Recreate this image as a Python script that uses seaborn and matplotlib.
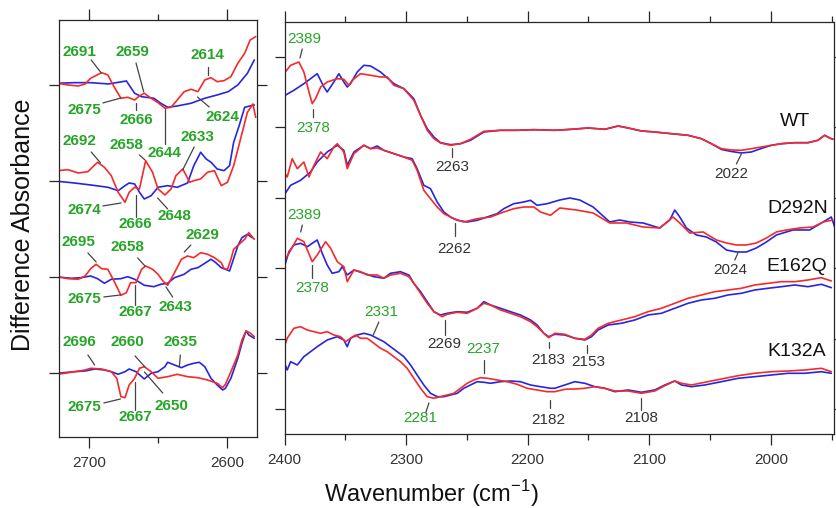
import numpy as np
import matplotlib
matplotlib.use("Agg")
import matplotlib.pyplot as plt
import seaborn as sns

# ---- left panel (2722-2578 cm-1), values relative to each trace's baseline ----
left_wt_blue_wn = [2723, 2711, 2699, 2686, 2673, 2667, 2662, 2653, 2648, 2643, 2636, 2626, 2616, 2607, 2599, 2592, 2585, 2580]
left_wt_blue = [1.7, 2.3, 2.3, 1, 4, -8.3, -11.7, -13.3, -18.3, -22.3, -21, -18.3, -13.3, -10, -6.7, 0, 11.7, 25]
left_wt_red_wn = [2723, 2715.5, 2708, 2703, 2699, 2691, 2686.5, 2682, 2677, 2672, 2667, 2663.5, 2660, 2655, 2650, 2645,
                  2640.5, 2636, 2631, 2626, 2621, 2616, 2611.5, 2607, 2602, 2597, 2592, 2587, 2583, 2579]
left_wt_red = [1.7, 0, -1, 1, 6.7, 12.3, 10, -1.7, -13.3, -12.3, -15, -11, -8.3, -13.3, -17.7, -23.3,
               -22.3, -15, -6.7, -4.3, -6.7, 5, 7.3, 3.3, 4.3, 8.3, 21.7, 31.7, 45, 48.3]

left_d292n_blue_wn = [2723, 2711, 2699, 2686.5, 2679, 2674, 2671, 2667, 2663.5, 2660, 2655, 2650, 2643, 2636, 2628.5,
                      2624, 2619, 2615, 2611.5, 2607, 2602, 2598, 2595, 2591, 2587, 2584, 2580]
left_d292n_blue = [-0.3, -2, -4, -6.3, -9.7, -4.7, -2, -3, -11.3, -18, -14.7, -6.3, -4.7, -6.3, -2,
                   15.3, 28.7, 22, 18.7, 12, 10.3, 15.3, 38.7, 55.3, 73.7, 74.7, 76]
left_d292n_red_wn = [2723, 2715.5, 2708, 2701, 2694, 2689, 2684, 2679, 2674, 2671, 2667, 2663.5, 2659, 2654, 2650, 2645,
                     2640.5, 2637, 2632, 2627, 2624, 2619, 2614, 2609, 2604, 2599.5, 2595, 2590, 2585, 2581, 2579]
left_d292n_red = [10.3, 11.3, 8, 9.3, 18.7, 13.7, 5.3, -11.3, -21.3, -11.3, -6.3, -8, 20.3, 8.7, -8, -14,
                  -8, 5.3, 12, -1.3, 0.3, 2, 8.7, 10.3, -4.7, -1.3, 15.3, 42, 68.7, 77, 63.7]

left_e162q_blue_wn = [2723, 2713, 2706, 2699, 2694, 2689, 2684, 2677, 2672, 2667, 2660, 2653, 2648, 2643, 2638,
                      2631, 2626, 2621, 2616, 2611.5, 2608, 2604, 2601, 2598, 2596, 2592, 2589, 2585, 2581.5]
left_e162q_blue = [0, -1.3, -0.7, 1, -1.7, -6.3, -2.3, -1.7, 0.3, -2.3, -8.3, -9.7, -7.3, -6.3, -0.7,
                   2.7, 7.7, 9.3, 13.7, 17.7, 14.3, 9.3, 7.7, 6, 14.3, 31, 39.3, 42.7, 39.3]
left_e162q_red_wn = [2723, 2715.5, 2708, 2703, 2699, 2695, 2691, 2686.5, 2682, 2677, 2673, 2670, 2666, 2662, 2659,
                     2654, 2650, 2646.5, 2643, 2638, 2633, 2628.5, 2624, 2619, 2614, 2609, 2604, 2602, 2599.5,
                     2597, 2595, 2591, 2587, 2584, 2580]
left_e162q_red = [0.3, -1.7, -2.3, 1, 8.3, 12.7, 8.3, 7.7, -4, -18.3, -15.7, -5.7, -5.7, 7.7, 11,
                  7.7, 2.7, -4, -8.3, 4.3, 17.7, 21, 19.3, 24.3, 22.7, 19.3, 14.3, 8.3, 7.7,
                  17.7, 27.7, 32.7, 37.7, 44.3, 37.7]

left_k132a_blue_wn = [2723, 2711, 2703, 2696, 2689, 2684, 2679, 2674, 2671, 2666, 2660, 2655, 2650, 2645, 2643, 2638,
                      2633, 2628.5, 2624, 2620, 2616, 2611.5, 2607, 2603, 2601, 2597, 2592, 2589, 2586, 2584, 2580]
left_k132a_blue = [-0.3, 1.3, 2, 4, 3, 1.3, -1.3, 1.3, 4, 1.3, -6, -0.3, 1.3, 6.3, 10.7, 8,
                   5.3, 8, 9.7, 10.7, 6.3, -5.3, -12, -17, -15.3, -5.3, 14.7, 29.7, 42, 38, 34.7]
left_k132a_red_wn = [2723, 2713, 2703, 2699, 2691, 2684, 2680, 2677, 2674, 2671, 2667, 2663.5, 2660, 2655, 2650,
                     2643, 2636, 2628.5, 2621, 2614, 2607, 2603, 2601, 2597, 2592, 2589, 2586, 2583, 2580]
left_k132a_red = [-1.3, 0.7, 3, 4.7, 4, 1.3, -5.3, -23.7, -24.7, -12, -5.3, 4.7, 6.3, 1.3, -5.3,
                  -3.7, -1.3, -3.7, -4.7, -7, -10.3, -14.7, -11.3, 1.3, 18, 33, 42, 40, 36.3]

left_offsets = {"WT": 288, "D292N": 192, "E162Q": 96, "K132A": 0}

# ---- right panel (2400-1948 cm-1) ----
right_wt_blue_wn = [2400.6, 2392.4, 2384.2, 2373.2, 2367.7, 2365, 2359.5, 2355.4, 2351.3, 2348.5, 2345.8, 2340.3,
                    2334.8, 2329.3, 2321.1, 2310.1, 2301.9, 2293.7, 2288.2, 2282.7, 2277.2, 2271.8, 2263.5, 2255.3,
                    2247.1, 2236.1, 2222.4, 2208.7, 2195, 2177.7, 2164, 2150.3, 2136.6, 2125.6, 2117.4, 2106.4,
                    2095.5, 2081.8, 2068.1, 2057.1, 2048.9, 2040.6, 2032.4, 2024.2, 2016, 2007.8, 1999.5, 1991.3,
                    1980.3, 1969.4, 1961.2, 1955.7, 1951.6, 1948.8]
right_wt_blue = [33, 38.7, 45.3, 55.3, 42, 37, 47, 55.3, 47, 42, 45.3, 57,
                 63.7, 63, 57, 45.3, 40.3, 30.3, 13.7, 0.3, -8, -13.7, -15.7, -14.7,
                 -11.3, -3, -1.3, -1.3, -0.7, -1.3, -0.3, 1, -0.3, 3, 1, -2,
                 -3, -4.7, -6.3, -9.7, -14.7, -20.5, -22.5, -24, -23, -19.5, -16.3, -14.7,
                 -13.7, -13.7, -11.3, -6.3, -9, -10.3]
right_wt_red_wn = [2400.6, 2395.1, 2388.3, 2384.2, 2380, 2377.3, 2374.6, 2370.4, 2365, 2356.7, 2351.3, 2347.1,
                   2344.4, 2337.6, 2329.3, 2321.1, 2315.6, 2310.1, 2301.9, 2293.7, 2288.2, 2282.7, 2277.2, 2271.8,
                   2263.5, 2255.3, 2247.1, 2236.1, 2222.4, 2208.7, 2195, 2177.7, 2164, 2150.3, 2136.6, 2125.6,
                   2117.4, 2106.4, 2095.5, 2081.8, 2068.1, 2057.1, 2048.9, 2040.6, 2032.4, 2024.2, 2016, 2007.8,
                   1999.5, 1991.3, 1980.3, 1969.4, 1961.2, 1955.7, 1951.6, 1948.8]
right_wt_red = [55.3, 63.7, 67, 57, 37, 25.3, 30.3, 42, 47, 50.3, 49.7, 43.7,
                48.7, 55.3, 53.7, 52, 52, 43.7, 40.3, 28.7, 13.7, -1.3, -9.7, -14,
                -16.3, -14.7, -10.3, -2.3, -1.3, -1.3, -0.7, -1.3, -0.3, 1, -0.3, 3,
                1, -2, -3, -4.7, -6.3, -9.7, -14.7, -19.7, -21, -21.3, -19.7, -18,
                -16.3, -14.7, -13.7, -13.7, -11.3, -6.3, -9, -10.3]

right_d292n_blue_wn = [2400.6, 2395.1, 2386.9, 2378.7, 2373.2, 2365, 2356.7, 2351.3, 2348.5, 2343, 2334.8, 2329.3,
                       2323.9, 2318.4, 2310.1, 2301.9, 2295.1, 2291, 2285.5, 2280, 2274.5, 2269, 2263.5, 2258,
                       2249.8, 2241.6, 2233.4, 2225.2, 2219.7, 2211.5, 2203.2, 2197.7, 2192.3, 2184, 2173.6, 2165.4,
                       2157.2, 2146.2, 2132.5, 2124.3, 2116, 2105.1, 2091.4, 2083.1, 2079, 2074.9, 2069.4, 2061.2,
                       2053, 2044.8, 2036.5, 2028.3, 2020.1, 2011.9, 2003.6, 1995.4, 1987.2, 1981.7, 1968, 1957,
                       1950.2, 1947.4]
right_d292n_blue = [3.7, 13.7, 18.7, 27, 37, 47, 53.7, 48.7, 33.7, 47, 53.7, 50.3,
                    53, 48.7, 45.3, 42, 40.3, 30.3, 13.7, 10.3, -3, -13, -18, -21.3,
                    -23, -21.3, -18, -14.7, -9.7, -4.7, -3, -1.3, -6.3, -4.7, -1, 1,
                    -1, -8, -23, -21, -23, -24, -29, -21, -11, -18, -29, -36,
                    -38, -43, -51, -53, -53, -49, -43, -36, -33, -31, -31, -23,
                    -18, -28]
right_d292n_red_wn = [2400.6, 2397.9, 2393.8, 2389.6, 2384.2, 2380, 2375.9, 2370.4, 2365, 2359.5, 2356.7, 2351.3,
                      2348.5, 2343, 2334.8, 2329.3, 2323.9, 2318.4, 2310.1, 2301.9, 2295.1, 2291, 2285.5, 2280,
                      2274.5, 2269, 2260.8, 2252.6, 2241.6, 2230.6, 2219.7, 2211.5, 2203.2, 2195, 2189.5, 2181.3,
                      2173.6, 2159.9, 2146.2, 2132.5, 2118.8, 2105.1, 2091.4, 2080.4, 2074.9, 2066.7, 2055.7, 2044.8,
                      2036.5, 2028.3, 2020.1, 2011.9, 2003.6, 1995.4, 1987.2, 1976.2, 1965.3, 1957, 1948.8]
right_d292n_red = [27, 22, 40.3, 30.3, 37, 22, 33.7, 47, 40.3, 52, 55.3, 47,
                   30.3, 45.3, 53.7, 50.3, 51, 48.7, 45.3, 42, 38.7, 28.7, 8.7, 0.3,
                   -8, -14.7, -19.7, -23, -19.7, -18, -13, -9.7, -8, -8, -13, -16.3,
                   -9, -11, -14, -24, -24, -28, -29, -18, -24, -34, -33, -41,
                   -44, -46, -46, -44, -39, -33, -31, -29, -28, -23, -21]

right_e162q_blue_wn = [2400.6, 2396.5, 2392.4, 2386.9, 2381.4, 2377.3, 2373.2, 2369.1, 2365, 2360.9, 2355.4, 2352.6,
                       2348.5, 2343, 2334.8, 2326.6, 2318.4, 2312.9, 2304.7, 2297.8, 2293.7, 2288.2, 2282.7, 2277.2,
                       2271.8, 2266.3, 2258, 2249.8, 2241.6, 2236.1, 2230.6, 2222.4, 2214.2, 2206, 2197.7, 2192.3,
                       2186.8, 2182.7, 2177.7, 2169.5, 2161.3, 2153, 2147.5, 2142.1, 2133.8, 2122.9, 2111.9, 2101,
                       2090, 2079, 2068.1, 2057.1, 2046.1, 2035.2, 2024.2, 2013.2, 2002.3, 1991.3, 1980.3, 1969.4,
                       1958.4, 1950.2]
right_e162q_blue = [0.7, 17.3, 24, 25.7, 22.3, 25.7, 29, 15.7, 4, -4.3, -2.7, 2.3,
                    -6, -1, -4.3, -7.7, -9.3, -4.3, -2.7, -6, -14.3, -22.7, -32.7, -42.7,
                    -46, -44.3, -42.7, -43.3, -39.3, -32.7, -36, -39.3, -42.7, -46, -51, -56,
                    -64.3, -67.7, -65.3, -66, -69.3, -71, -67.7, -61, -56, -54.3, -51, -46,
                    -44.3, -39.3, -34.3, -31, -29.3, -26, -24.3, -21, -19.3, -17.7, -16, -17.7,
                    -15.3, -18.7]
right_e162q_red_wn = [2400.6, 2396.5, 2389.6, 2384.2, 2377.3, 2373.2, 2366.3, 2362.2, 2356.7, 2351.3, 2348.5, 2343,
                      2337.6, 2332.1, 2323.9, 2318.4, 2312.9, 2304.7, 2297.8, 2293.7, 2288.2, 2282.7, 2277.2, 2270.4,
                      2266.3, 2258, 2249.8, 2241.6, 2236.1, 2230.6, 2222.4, 2214.2, 2206, 2197.7, 2192.3, 2186.8,
                      2182.7, 2177.7, 2169.5, 2161.3, 2153, 2147.5, 2142.1, 2133.8, 2122.9, 2111.9, 2101, 2090,
                      2079, 2068.1, 2057.1, 2046.1, 2035.2, 2024.2, 2013.2, 2002.3, 1991.3, 1980.3, 1969.4, 1958.4,
                      1950.2]
right_e162q_red = [7.3, 15.7, 30.7, 27.3, 7.3, 14, 27.3, 20.7, 7.3, 2.3, -12.7, -1,
                   -2.7, -6, -6, -9.3, -6, -4.3, -7.7, -14.3, -24.3, -34.3, -42.7, -47.7,
                   -45.3, -43.3, -44.3, -39.3, -34.3, -36, -41, -44.3, -47.7, -52.7, -57.7, -64.3,
                   -68.7, -64.3, -65.3, -69.3, -70.3, -66, -59.3, -54.3, -51, -47.7, -42.7, -39.3,
                   -34.3, -29.3, -26, -22.7, -21, -19.3, -16, -14.3, -12.7, -12.7, -11, -8.7,
                   -12]

right_k132a_blue_wn = [2400.6, 2397.9, 2395.1, 2389.6, 2384.2, 2378.7, 2373.2, 2365, 2356.7, 2351.3, 2348.5, 2345.8,
                       2340.3, 2334.8, 2329.3, 2323.9, 2318.4, 2312.9, 2307.4, 2301.9, 2296.4, 2291, 2285.5, 2280,
                       2274.5, 2269, 2263.5, 2258, 2252.6, 2247.1, 2241.6, 2236.1, 2230.6, 2222.4, 2214.2, 2206,
                       2197.7, 2189.5, 2181.3, 2177.7, 2169.5, 2161.3, 2153, 2144.8, 2136.6, 2128.4, 2117.4, 2106.4,
                       2095.5, 2087.2, 2079, 2073.5, 2065.3, 2054.3, 2040.6, 2026.9, 2013.2, 1999.5, 1985.8, 1972.1,
                       1958.4, 1950.2]
right_k132a_blue = [-22.7, -31, -22.7, -26, -17.7, -12.7, -7.7, -1, 2.3, -1, -7.7, 0.7,
                    4, 5.7, 4, 0.7, -2.7, -7.7, -12.7, -17.7, -26, -36, -46, -54.3,
                    -57.7, -57.7, -56, -54.3, -49.3, -46, -42.7, -43.3, -44.3, -42.7, -42, -42.7,
                    -46, -47.7, -49.3, -49.3, -46, -42.7, -44.3, -47.7, -49.3, -52.7, -51, -53.3,
                    -51, -46, -42, -46, -47.7, -46, -42.7, -39.3, -37.7, -36, -34.3, -34.3,
                    -32.7, -34.3]
right_k132a_red_wn = [2400.6, 2397.9, 2392.4, 2386.9, 2381.4, 2375.9, 2370.4, 2365, 2359.5, 2354, 2349.9, 2345.8,
                      2341.7, 2337.6, 2332.1, 2326.6, 2321.1, 2315.6, 2310.1, 2304.7, 2299.2, 2293.7, 2288.2, 2282.7,
                      2277.2, 2271.8, 2266.3, 2260.8, 2255.3, 2249.8, 2244.3, 2238.9, 2233.4, 2225.2, 2216.9, 2208.7,
                      2200.5, 2192.3, 2184, 2177.7, 2169.5, 2161.3, 2153, 2144.8, 2136.6, 2128.4, 2117.4, 2106.4,
                      2095.5, 2087.2, 2079, 2073.5, 2065.3, 2054.3, 2040.6, 2026.9, 2013.2, 1999.5, 1985.8, 1972.1,
                      1958.4, 1950.2]
right_k132a_red = [-9.3, 0.7, 10.7, 12.3, 9, 7.3, 5.7, 7.3, 4, 2.3, -2.7, 0.7,
                   4, 0.7, 0.7, -4.3, -9.3, -12.7, -17.7, -22.7, -29.3, -39.3, -49.3, -57.7,
                   -59.3, -57.7, -56, -54.3, -49.3, -44.3, -41, -38.7, -39.3, -41, -42.7, -45.3,
                   -49.3, -51, -52.7, -52.7, -50.3, -50, -49.3, -47.7, -49.3, -52, -52, -54.3,
                   -52, -46.7, -42, -44.3, -46, -43.3, -40, -36.7, -34.3, -32.7, -32, -31,
                   -29.3, -32.7]

right_offsets = {"WT": 280, "D292N": 210, "E162Q": 140, "K132A": 70}

# peak labels: (text, text_x, text_y, line from (x0, y0) to (x1, y1))
left_labels = [
    ("2691", 2707, 321, 2698.6, 313, 2691.3, 300),
    ("2659", 2668.4, 321, 2666, 310, 2660.4, 281),
    ("2614", 2614, 318, 2614, 306, 2614, 298),
    ("2675", 2703.4, 263, 2690.1, 270, 2676.9, 275),
    ("2666", 2666, 253, 2666, 270, 2666, 263),
    ("2644", 2645, 220, 2645, 264, 2645, 229),
    ("2624", 2603.2, 256, 2621.3, 276, 2612.8, 266),
    ("2692", 2707, 232, 2698.6, 221, 2691.8, 210),
    ("2658", 2673.2, 228, 2663.5, 218, 2659.5, 213),
    ("2633", 2621.3, 236, 2623.7, 226, 2632.1, 203),
    ("2674", 2703.4, 163, 2690.1, 167, 2676.9, 170),
    ("2666", 2666.7, 149, 2666, 178, 2666, 156),
    ("2648", 2638.2, 157, 2650.3, 175, 2643, 164),
    ("2629", 2617.7, 138, 2626.1, 128, 2630.9, 121),
    ("2695", 2707.7, 131, 2701, 120, 2695, 111),
    ("2658", 2672, 126, 2664.8, 115, 2659.5, 107),
    ("2675", 2703.4, 74, 2689.4, 76, 2677.3, 78),
    ("2667", 2666.7, 61, 2666.7, 88, 2666.7, 68),
    ("2643", 2637, 66, 2644.2, 86, 2639.4, 76),
    ("2696", 2707, 31, 2701, 18, 2696.1, 8),
    ("2660", 2672, 31, 2666.7, 17, 2659.5, 6),
    ("2635", 2633.4, 31, 2633.8, 18, 2634.5, 6),
    ("2675", 2703.4, -34, 2689.4, -30, 2677.3, -26),
    ("2667", 2666.7, -44, 2666.7, -9, 2666.7, -37),
    ("2650", 2640.6, -33, 2659.9, 1, 2646.6, -20),
]
right_labels = [
    ("2389", "g", 2383.6, 370, 2385.5, 360, 2387.4, 351),
    ("2378", "g", 2376.5, 281, 2376.5, 300, 2376.5, 292),
    ("2263", "k", 2262.2, 242, 2262.2, 261, 2262.2, 252),
    ("2389", "g", 2383.6, 194, 2385.5, 184, 2386.8, 177),
    ("2262", "k", 2260.2, 160, 2260.2, 186, 2260.2, 173),
    ("2378", "g", 2377.3, 121, 2377.3, 144, 2377.3, 131),
    ("2269", "k", 2268.4, 65, 2268.4, 89, 2268.4, 74),
    ("2331", "g", 2320.6, 97, 2322.5, 87, 2327.1, 74),
    ("2237", "g", 2236.7, 60, 2236.1, 49, 2236.1, 36),
    ("2183", "k", 2183.2, 49, 2182.4, 67, 2182.4, 61),
    ("2281", "g", 2288.7, -9, 2281.3, 6, 2284, -4),
    ("2182", "k", 2183.2, -11, 2181.8, 9, 2181.8, 1),
    ("2022", "k", 2032.4, 235, 2024.2, 255, 2028.3, 245),
    ("2024", "k", 2033, 139, 2027, 156, 2029.6, 149),
    ("2153", "k", 2150.3, 47, 2151.6, 64, 2151.6, 56),
    ("2108", "k", 2107, -9, 2107, 11, 2107, -1),
]
sample_names = [("WT", 1980.3, 287), ("D292N", 1977.6, 200), ("E162Q", 1978.9, 142), ("K132A", 1978.9, 57)]

BLUE = "#2626e0"
RED = "#f52a2a"
GREEN = "#26a626"
GRAY = "#333333"

sns.set_style("ticks")
plt.rcParams["font.family"] = ["Liberation Sans", "DejaVu Sans"]
plt.rcParams["mathtext.fontset"] = "custom"
plt.rcParams["mathtext.rm"] = "Liberation Sans"
plt.rcParams["axes.linewidth"] = 0.9

fig = plt.figure(figsize=(8.37, 5.08), dpi=100)
axl = fig.add_axes([0.0705, 0.1398, 0.2366, 0.8209])
axr = fig.add_axes([0.3401, 0.1457, 0.6563, 0.8110])

left_traces = [
    ("WT", left_wt_blue_wn, left_wt_blue, left_wt_red_wn, left_wt_red),
    ("D292N", left_d292n_blue_wn, left_d292n_blue, left_d292n_red_wn, left_d292n_red),
    ("E162Q", left_e162q_blue_wn, left_e162q_blue, left_e162q_red_wn, left_e162q_red),
    ("K132A", left_k132a_blue_wn, left_k132a_blue, left_k132a_red_wn, left_k132a_red),
]
right_traces = [
    ("WT", right_wt_blue_wn, right_wt_blue, right_wt_red_wn, right_wt_red),
    ("D292N", right_d292n_blue_wn, right_d292n_blue, right_d292n_red_wn, right_d292n_red),
    ("E162Q", right_e162q_blue_wn, right_e162q_blue, right_e162q_red_wn, right_e162q_red),
    ("K132A", right_k132a_blue_wn, right_k132a_blue, right_k132a_red_wn, right_k132a_red),
]

for ax, traces, offsets in [(axl, left_traces, left_offsets), (axr, right_traces, right_offsets)]:
    for name, bx, by, rx, ry in traces:
        off = offsets[name]
        sns.lineplot(x=bx, y=np.array(by) + off, color=BLUE, lw=1.2, ax=ax, sort=False)
        sns.lineplot(x=rx, y=np.array(ry) + off, color=RED, lw=1.2, ax=ax, sort=False)

for txt, tx, ty, x0, y0, x1, y1 in left_labels:
    axl.plot([x0, x1], [y0, y1], color="#444444", lw=0.9)
    axl.text(tx, ty, txt, color=GREEN, fontsize=11, fontweight="bold", ha="center", va="center")

for txt, kind, tx, ty, x0, y0, x1, y1 in right_labels:
    axr.plot([x0, x1], [y0, y1], color="#444444", lw=0.9)
    axr.text(tx, ty, txt, color=GREEN if kind == "g" else GRAY, fontsize=11, ha="center", va="center")

for name, tx, ty in sample_names:
    axr.text(tx, ty, name, color="#111111", fontsize=14, ha="center", va="center")

axl.set_xlim(2722, 2578)
axl.set_ylim(-64, 353)
axl.set_xticks([2700, 2600])
axl.set_xticks([2650], minor=True)
axl.set_yticks([0, 96, 192, 288])

axr.set_xlim(2400, 1948)
axr.set_ylim(-25, 387)
axr.set_xticks([2400, 2300, 2200, 2100, 2000])
axr.set_xticks([2350, 2250, 2150, 2050, 1950], minor=True)
axr.set_yticks([0, 70.4, 140.8, 211.2, 281.6, 352])

for ax in (axl, axr):
    ax.set_yticklabels([])
    ax.set_xlabel("")
    ax.set_ylabel("")
    for s in ax.spines.values():
        s.set_visible(True)
        s.set_linewidth(0.9)
    ax.tick_params(axis="x", which="major", direction="out", length=8, width=0.9, top=True,
                   labelsize=11, labelcolor=GRAY, pad=6)
    ax.tick_params(axis="x", which="minor", direction="out", length=4.5, width=0.9, top=True)
    ax.tick_params(axis="y", which="major", direction="out", length=7, width=0.9, right=True)

fig.text(431 / 837, 0.012, "Wavenumber (cm$^{-1}$)", fontsize=17, ha="center", va="baseline", color="#111111")
fig.text(23 / 837, 0.558, "Difference Absorbance", fontsize=18, rotation=90, ha="center", va="center",
         color="#111111")

fig.savefig("out.png", dpi=100)
